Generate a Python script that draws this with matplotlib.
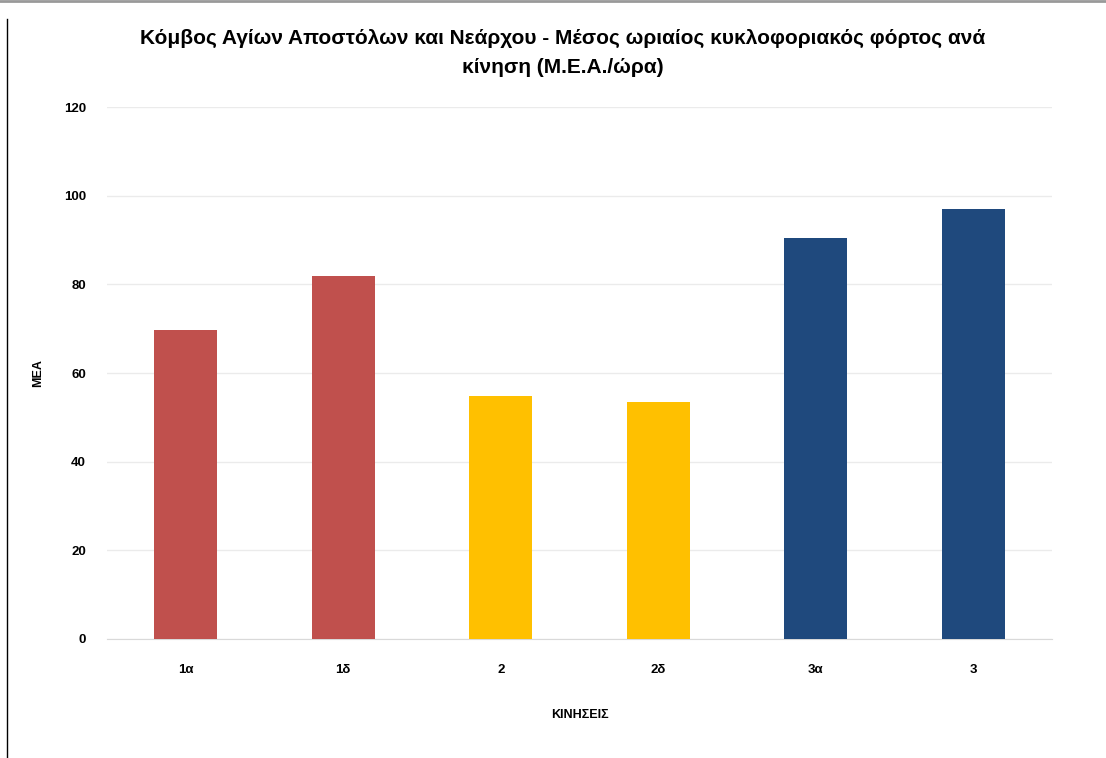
import matplotlib
matplotlib.use("Agg")
import matplotlib.pyplot as plt
from matplotlib.lines import Line2D

plt.rcParams['font.family'] = ['Liberation Sans', 'DejaVu Sans']

# data
kiniseis = ['1α', '1δ', '2', '2δ', '3α', '3']
mea = [69.8, 81.9, 54.9, 53.5, 90.5, 97.0]
colors = ['#C0504D', '#C0504D', '#FFC000', '#FFC000', '#1F497D', '#1F497D']
yticks = [0, 20, 40, 60, 80, 100, 120]

fig = plt.figure(figsize=(11.06, 7.58), dpi=100)
ax = fig.add_axes([0.0967, 0.157, 0.8545, 0.7018])

x = range(len(kiniseis))
ax.bar(x, mea, width=0.4, color=colors, zorder=3)

ax.set_xlim(-0.5, len(kiniseis) - 0.5)
ax.set_ylim(0, 120)
ax.set_yticks(yticks)
ax.set_xticks(list(x))
ax.set_xticklabels(kiniseis)
ax.grid(axis='y', color='#ebebeb', linewidth=1, zorder=0)
for s in ['top', 'right', 'left']:
    ax.spines[s].set_visible(False)
ax.spines['bottom'].set_color('#d9d9d9')
ax.tick_params(length=0, labelsize=9.5)
ax.tick_params(axis='x', pad=18)
ax.tick_params(axis='y', pad=15)
for lab in ax.get_xticklabels() + ax.get_yticklabels():
    lab.set_fontweight('bold')

ax.set_ylabel('ΜΕΑ', fontsize=9, fontweight='bold')
ax.set_xlabel('ΚΙΝΗΣΕΙΣ', fontsize=9, fontweight='bold', labelpad=24)
ax.yaxis.set_label_coords(-0.067, 0.5)

fig.text(0.509, 0.930, 'Κόμβος Αγίων Αποστόλων και Νεάρχου - Μέσος ωριαίος κυκλοφοριακός φόρτος ανά\nκίνηση (Μ.Ε.Α./ώρα)',
         ha='center', va='center', fontsize=15, fontweight='bold', linespacing=1.65)

# chart frame edges visible in the reference
fig.add_artist(Line2D([0, 1], [0.999, 0.999], color='#999999', linewidth=2, transform=fig.transFigure))
fig.add_artist(Line2D([0.0065, 0.0065], [0, 0.975], color='black', linewidth=1, transform=fig.transFigure))

fig.savefig('out.png', dpi=100)
